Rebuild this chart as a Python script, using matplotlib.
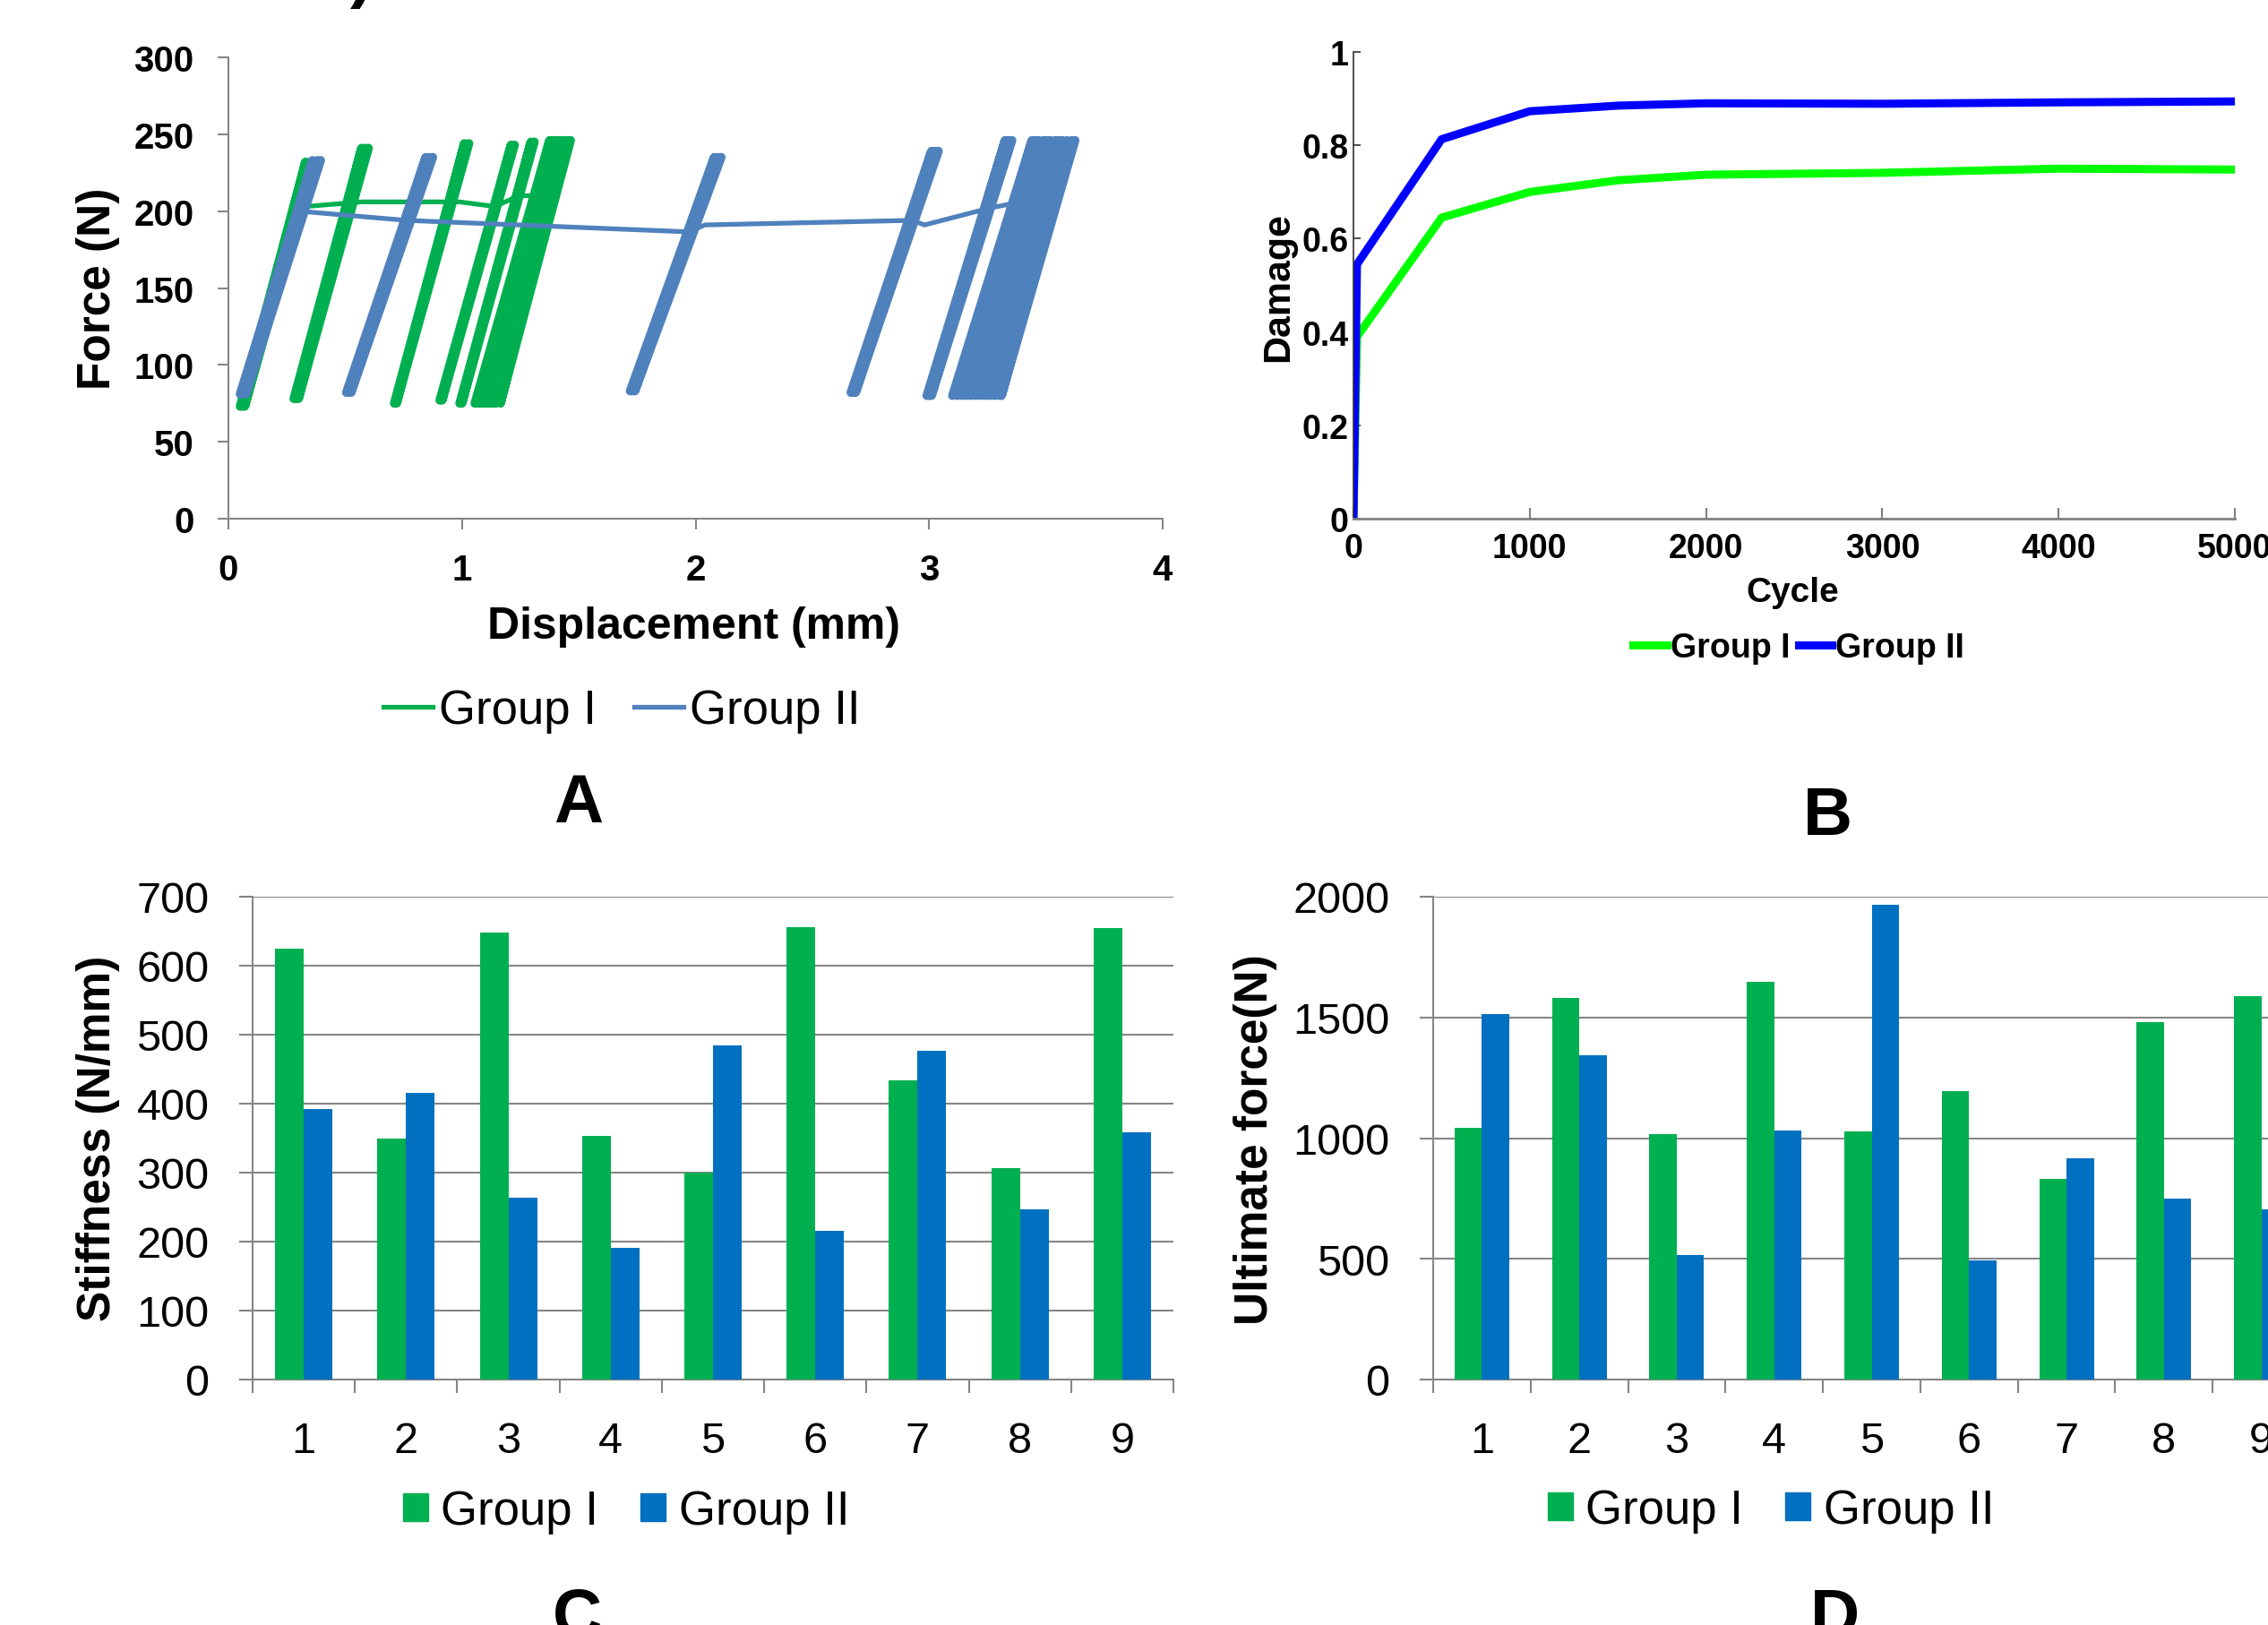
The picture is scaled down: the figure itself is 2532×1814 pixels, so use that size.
import numpy as np
import matplotlib
matplotlib.use('Agg')
import matplotlib.pyplot as plt
from matplotlib.patches import Patch
from matplotlib.lines import Line2D

W, H = 2532, 1815

# ---- panel A: force vs displacement (loops listed per cluster) ----
# each cluster: loop bottom displacements, loop top displacements, min force, max force
groupI_loops = [
    ([0.05, 0.06, 0.07], [0.33, 0.35, 0.365], 73, 232),
    ([0.28, 0.29, 0.30], [0.57, 0.585, 0.60], 78, 241),
    ([0.71, 0.72], [1.01, 1.03], 75, 244),
    ([0.905, 0.915], [1.21, 1.225], 77, 243),
    ([0.99, 1.0], [1.295, 1.31], 75, 245),
    ([1.055, 1.07, 1.085, 1.10, 1.115, 1.13, 1.145, 1.165],
     [1.375, 1.39, 1.40, 1.415, 1.425, 1.44, 1.45, 1.465], 75, 246),
]
groupII_loops = [
    ([0.05, 0.06, 0.075], [0.36, 0.38, 0.395], 81, 233),
    ([0.505, 0.515, 0.525], [0.845, 0.86, 0.875], 82, 235),
    ([1.72, 1.73, 1.74], [2.08, 2.095, 2.11], 83, 235),
    ([2.665, 2.675, 2.685], [3.01, 3.025, 3.04], 82, 239),
    ([2.99, 3.0, 3.01], [3.325, 3.34, 3.355], 80, 246),
    ([3.10, 3.12, 3.14, 3.16, 3.18, 3.20, 3.22, 3.24, 3.26, 3.28, 3.30, 3.31],
     [3.44, 3.455, 3.47, 3.49, 3.505, 3.52, 3.54, 3.555, 3.57, 3.59, 3.61, 3.625], 80, 246),
]
groupI_link_disp = [0.33, 0.57, 0.99, 1.14, 1.20, 1.24, 1.30]
groupI_link_force = [203, 206, 206, 203, 207, 210, 210]
groupII_link_disp = [0.30, 0.76, 1.97, 2.04, 2.93, 2.98, 3.26, 3.36]
groupII_link_force = [200, 194, 186.5, 191, 194, 191, 202, 205]

# ---- panel B: damage vs cycle ----
cycles = [0, 20, 500, 1000, 1500, 2000, 3000, 4000, 5000]
damage_I = [0, 0.39, 0.645, 0.70, 0.725, 0.737, 0.741, 0.75, 0.748]
damage_II = [0, 0.545, 0.813, 0.873, 0.885, 0.89, 0.889, 0.892, 0.894]

# ---- panels C, D: bars ----
specimens = [1, 2, 3, 4, 5, 6, 7, 8, 9]
stiffness_I = [625, 350, 648, 353, 300, 656, 434, 307, 655]
stiffness_II = [392, 415, 264, 191, 485, 215, 476, 247, 358]
ultimate_I = [1042, 1581, 1018, 1646, 1026, 1194, 832, 1482, 1589]
ultimate_II = [1514, 1344, 514, 1032, 1968, 492, 917, 751, 704]

plt.rcParams['font.family'] = ['Liberation Sans', 'DejaVu Sans']


def box(l, t, r, b):
    return [l / W, 1 - b / H, (r - l) / W, (b - t) / H]


def fx(px):
    return px / W


def fy(py):
    return 1 - py / H


def zigzag(bottoms, tops, fmin, fmax):
    xs, ys = [], []
    for b, t in zip(bottoms, tops):
        xs += [b, t]
        ys += [fmin, fmax]
    return xs, ys


fig = plt.figure(figsize=(W / 100, H / 100), dpi=100)

# ================= A =================
axA = fig.add_axes(box(255, 65, 1298, 580))
greenA, blueA = '#00B050', '#4F81BD'
for bottoms, tops, fmin, fmax in groupI_loops:
    xs, ys = zigzag(bottoms, tops, fmin, fmax)
    axA.plot(xs, ys, color=greenA, lw=7, solid_capstyle='round', solid_joinstyle='round')
axA.plot(groupI_link_disp, groupI_link_force, color=greenA, lw=3.8)
for bottoms, tops, fmin, fmax in groupII_loops:
    xs, ys = zigzag(bottoms, tops, fmin, fmax)
    axA.plot(xs, ys, color=blueA, lw=7, solid_capstyle='round', solid_joinstyle='round')
axA.plot(groupII_link_disp, groupII_link_force, color=blueA, lw=3.8)
axA.set_xlim(0, 4)
axA.set_ylim(0, 300)
axA.set_xticks([0, 1, 2, 3, 4])
axA.set_yticks(range(0, 301, 50))
for s in ['top', 'right']:
    axA.spines[s].set_visible(False)
for s in ['left', 'bottom']:
    axA.spines[s].set_color('#868686')
    axA.spines[s].set_linewidth(1.5)
axA.tick_params(direction='out', length=8.6, width=1.5, color='#868686',
                labelsize=29, pad=19)
for lbl in axA.get_xticklabels() + axA.get_yticklabels():
    lbl.set_fontweight('bold')
fig.text(fx(775), fy(713), 'Displacement (mm)', fontsize=36, fontweight='bold',
         ha='center', va='baseline')
fig.text(fx(110), fy(322), 'Force (N)', fontsize=37, fontweight='bold',
         rotation=90, ha='center', va='center')
fig.legend(handles=[Line2D([], [], color=greenA, lw=3.8),
                    Line2D([], [], color=blueA, lw=3.8)],
           labels=['Group I', 'Group II'], ncol=2, frameon=False, fontsize=38,
           handlelength=1.05, handletextpad=0.12, columnspacing=0.8,
           loc='center', bbox_to_anchor=(fx(694), fy(794)))
fig.text(fx(646), fy(918), 'A', fontsize=55, fontweight='bold', ha='center', va='baseline')
fig.text(fx(404), fy(-6), ')', fontsize=55, fontweight='bold', ha='center', va='baseline')

# ================= B =================
axB = fig.add_axes(box(1511, 59, 2495, 580))
axB.plot(cycles, damage_I, color='#00FF00', lw=6.5, solid_joinstyle='round')
axB.plot(cycles, damage_II, color='#0000FF', lw=6.5, solid_joinstyle='round')
axB.set_xlim(0, 5000)
axB.set_ylim(0, 1)
axB.set_xticks(range(0, 5001, 1000))
axB.set_yticks([0, 0.2, 0.4, 0.6, 0.8, 1])
axB.set_yticklabels(['0', '0.2', '0.4', '0.6', '0.8', '1'])
for s in ['top', 'right']:
    axB.spines[s].set_visible(False)
axB.spines['bottom'].set_color('#808080')
axB.spines['bottom'].set_linewidth(2)
axB.spines['left'].set_color('#303030')
axB.spines['left'].set_linewidth(1.2)
axB.tick_params(axis='x', direction='in', length=9, width=1.5, color='#808080', pad=11)
axB.tick_params(axis='y', direction='in', length=6, width=1.2, color='#303030', pad=4)
for lbl in axB.get_xticklabels() + axB.get_yticklabels():
    lbl.set_fontweight('bold')
    lbl.set_fontsize(27)
fig.text(fx(2001), fy(672), 'Cycle', fontsize=28, fontweight='bold',
         ha='center', va='baseline')
fig.text(fx(1427), fy(320), 'Damage', fontsize=31, fontweight='bold',
         rotation=90, ha='center', va='center')
fig.legend(handles=[Line2D([], [], color='#00FF00', lw=6.5),
                    Line2D([], [], color='#0000FF', lw=6.5)],
           labels=['Group I', 'Group II'], ncol=2, frameon=False,
           prop={'weight': 'bold', 'size': 27},
           handlelength=1.0, handletextpad=0.1, columnspacing=0.25,
           loc='center', bbox_to_anchor=(fx(2008), fy(724)))
fig.text(fx(2040), fy(932), 'B', fontsize=55, fontweight='bold', ha='center', va='baseline')


# ================= C, D =================
def bar_panel(rect, vals_I, vals_II, ymax, ystep, ylabel, ylab_xy, leg_xy, letter_xy, letter):
    ax = fig.add_axes(rect)
    x = np.array(specimens)
    w = 0.28
    ax.bar(x - w / 2, vals_I, width=w, color='#00B050', zorder=3)
    ax.bar(x + w / 2, vals_II, width=w, color='#0070C0', zorder=3)
    ax.set_xlim(0.5, 9.5)
    ax.set_ylim(0, ymax)
    ax.set_yticks(range(0, ymax + 1, ystep))
    ax.set_xticks(x)
    ax.set_xticks(np.arange(0.5, 9.6, 1), minor=True)
    ax.yaxis.grid(True, color='#868686', lw=1.5, zorder=0)
    for s in ['top', 'right']:
        ax.spines[s].set_visible(False)
    for s in ['left', 'bottom']:
        ax.spines[s].set_color('#868686')
        ax.spines[s].set_linewidth(1.5)
    ax.tick_params(axis='x', which='major', length=0, labelsize=35, pad=33)
    ax.tick_params(axis='x', which='minor', direction='out', length=11, width=1.5, color='#868686')
    ax.tick_params(axis='y', direction='out', length=11, width=1.5, color='#868686',
                   labelsize=35, pad=24)
    fig.text(fx(ylab_xy[0]), fy(ylab_xy[1]), ylabel, fontsize=37, fontweight='bold',
             rotation=90, ha='center', va='center')
    fig.legend(handles=[Patch(color='#00B050'), Patch(color='#0070C0')],
               labels=['Group I', 'Group II'], ncol=2, frameon=False, fontsize=38,
               handlelength=0.53, handleheight=0.53, handletextpad=0.27,
               columnspacing=0.9, loc='center',
               bbox_to_anchor=(fx(leg_xy[0]), fy(leg_xy[1])))
    fig.text(fx(letter_xy[0]), fy(letter_xy[1]), letter, fontsize=55, fontweight='bold',
             ha='center', va='baseline')
    return ax


bar_panel(box(282, 1002, 1310, 1541), stiffness_I, stiffness_II, 700, 100,
          'Stiffness (N/mm)', (110, 1271), (699, 1688), (645, 1827), 'C')
bar_panel(box(1600, 1002, 2579, 1541), ultimate_I, ultimate_II, 2000, 500,
          'Ultimate force(N)', (1401, 1272), (1977, 1687), (2048, 1827), 'D')

fig.savefig('out.png', dpi=100)
